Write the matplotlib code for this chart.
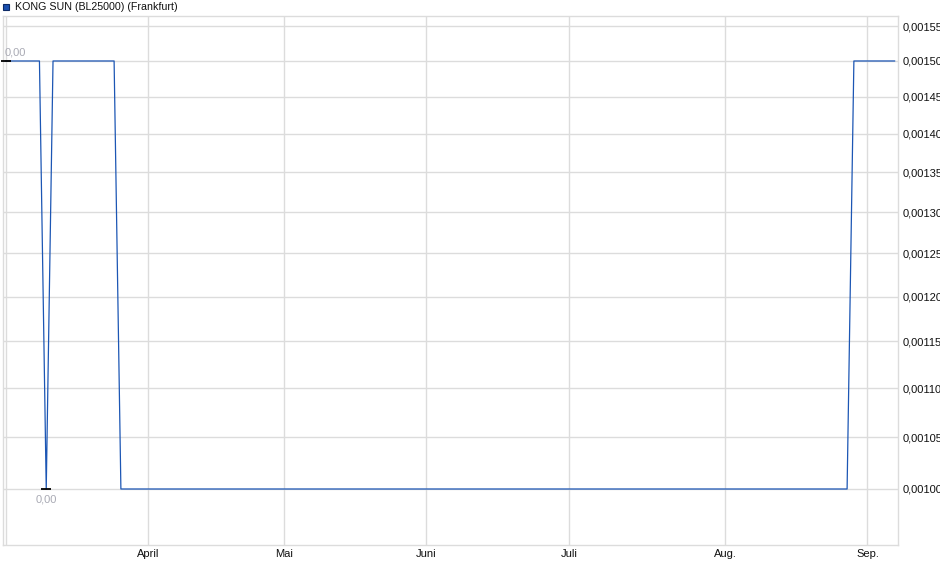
import numpy as np
import matplotlib
matplotlib.use('Agg')
import matplotlib.pyplot as plt
from matplotlib.ticker import FixedLocator, NullLocator, FuncFormatter
from matplotlib.patches import Rectangle

plt.rcParams['font.family'] = ['Liberation Sans', 'DejaVu Sans']

# price series (only the points where the line changes direction)
dates = ['2025-03-03', '2025-03-10', '2025-03-11', '2025-03-12', '2025-03-25',
         '2025-03-26', '2025-08-27', '2025-08-28', '2025-09-05']
prices = [0.0015, 0.0015, 0.0010, 0.0015, 0.0015,
          0.0010, 0.0010, 0.0015, 0.0015]

month_starts = ['2025-03-03', '2025-04-01', '2025-05-02', '2025-06-02',
                '2025-07-01', '2025-08-01', '2025-09-01']
month_labels = ['', 'April', 'Mai', 'Juni', 'Juli', 'Aug.', 'Sep.']

y_ticks = [0.00100, 0.00105, 0.00110, 0.00115, 0.00120, 0.00125,
           0.00130, 0.00135, 0.00140, 0.00145, 0.00150, 0.00155]

hi_date, hi_val = '2025-03-03', 0.0015
lo_date, lo_val = '2025-03-11', 0.0010

title = 'KONG SUN (BL25000) (Frankfurt)'

# Frankfurt trading holidays -> x axis counts trading days
holidays = ['2025-04-18', '2025-04-21', '2025-05-01']


def tday(d):
    return np.busday_count('2025-04-01', d, holidays=holidays)


line_col = '#1c56b4'
grid_col = '#dcdcdc'

fig = plt.figure(figsize=(9.4, 5.79), dpi=100)
ax = fig.add_axes([3 / 940, 34 / 579, 895 / 940, 529 / 579])

x = [tday(d) for d in dates]
ax.plot(x, prices, color=line_col, lw=0.9, zorder=3)

ax.set_yscale('log')
ax.set_ylim(0.00094833, 0.0015653)
ax.set_xlim(-21.37, 110.5)

ax.yaxis.set_major_locator(FixedLocator(y_ticks))
ax.yaxis.set_minor_locator(NullLocator())
ax.yaxis.set_major_formatter(FuncFormatter(lambda v, p: ('%.5f' % v).replace('.', ',')))
ax.yaxis.tick_right()

ax.xaxis.set_major_locator(FixedLocator([tday(d) for d in month_starts]))
ax.set_xticklabels(month_labels)
ax.xaxis.set_minor_locator(NullLocator())

ax.tick_params(axis='both', length=0, labelsize=8, colors='#111111')
ax.tick_params(axis='y', pad=3.2)
ax.tick_params(axis='x', pad=3)

ax.grid(True, color=grid_col, lw=1)
ax.set_axisbelow(True)
for s in ax.spines.values():
    s.set_color(grid_col)
    s.set_linewidth(1)

# high / low markers
lbl_col = '#a9aab4'
ax.plot([tday(hi_date)], [hi_val], marker='_', ms=6.5, mew=1.3, color='black',
        clip_on=False, zorder=4)
ax.plot([tday(lo_date)], [lo_val], marker='_', ms=6.5, mew=1.3, color='black',
        clip_on=False, zorder=4)
ax.annotate('0,00', (tday(hi_date), hi_val), xytext=(-0.5, 2.5), textcoords='offset points',
            ha='left', va='bottom', fontsize=8, color=lbl_col)
ax.annotate('0,00', (tday(lo_date), lo_val), xytext=(0, -4), textcoords='offset points',
            ha='center', va='top', fontsize=8, color=lbl_col)

# legend box
fig.patches.append(Rectangle((3 / 940, 1 - 10 / 579), 6 / 940, 6 / 579,
                             transform=fig.transFigure, facecolor='#1a4fae',
                             edgecolor='#0d2a66', lw=0.8))
fig.text(15 / 940, 1 - 6.5 / 579, title, fontsize=7.7, va='center', ha='left',
         color='#111111')

fig.savefig('out.png', dpi=100)
